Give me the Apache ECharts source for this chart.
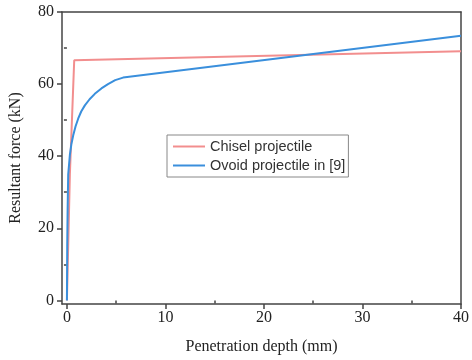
<!DOCTYPE html>
<html><head><meta charset="utf-8">
<script src="https://cdn.jsdelivr.net/npm/echarts@6/dist/echarts.min.js"></script>
<style>html,body{margin:0;padding:0;background:#fff}#c{width:472px;height:360px}</style>
</head><body><div id="c"></div>
<script>
const chiselX = [0, 0.3, 0.74, 40];
const chiselY = [0, 35, 66.6, 69.1];
const ovoidX = [0, 0.03, 0.07, 0.13, 0.3, 0.45, 0.64, 0.88, 1.14, 1.45, 1.82, 2.3, 2.83, 3.5, 4.17, 4.9, 5.7, 40];
const ovoidY = [0, 15, 25, 34.9, 40.4, 43.3, 45.8, 48.3, 50.4, 52.4, 54.1, 55.8, 57.3, 58.8, 60.0, 61.1, 61.8, 73.4];
const xTicks = [0, 10, 20, 30, 40];
const xMinor = [5, 15, 25, 35];
const yTicks = [0, 20, 40, 60, 80];
const yMinor = [10, 30, 50, 70];
const names = ['Chisel projectile', 'Ovoid projectile in [9]'];

const serif = 'Liberation Serif';
const axisCol = '#444';
const xmin = -0.5, xmax = 40, ymin = -1, ymax = 80;

const chart = echarts.init(document.getElementById('c'));
chart.setOption({
  animation: false,
  backgroundColor: '#fff',
  grid: { left: 62, right: 9, top: 12, bottom: 52 },
  legend: {
    orient: 'vertical', left: 167, top: 135,
    data: names, icon: 'rect', itemWidth: 32, itemHeight: 2, itemGap: 4,
    borderColor: '#888', borderWidth: 1, padding: [4, 3, 4, 6],
    textStyle: { fontFamily: 'Liberation Sans', fontSize: 14.5, color: '#333' }
  },
  xAxis: [
    { type: 'value', min: xmin, max: xmax, position: 'bottom',
      name: 'Penetration depth (mm)', nameLocation: 'middle', nameGap: 35,
      nameTextStyle: { fontFamily: serif, fontSize: 16, color: '#222' },
      axisLine: { show: true, onZero: false, lineStyle: { color: axisCol, width: 1.5 } },
      axisTick: { show: true, inside: false, length: 5, customValues: xTicks, lineStyle: { color: axisCol, width: 1.5 } },
      axisLabel: { customValues: xTicks, margin: 6, fontFamily: serif, fontSize: 16, color: '#222' },
      splitLine: { show: false } },
    { type: 'value', min: xmin, max: xmax, position: 'bottom',
      axisLine: { show: false },
      axisTick: { show: true, length: 3, customValues: xMinor, lineStyle: { color: axisCol, width: 1.5 } },
      axisLabel: { show: false }, splitLine: { show: false } },
    { type: 'value', min: xmin, max: xmax, position: 'top',
      axisLine: { show: true, onZero: false, lineStyle: { color: axisCol, width: 1.5 } },
      axisTick: { show: false }, axisLabel: { show: false }, splitLine: { show: false } }
  ],
  yAxis: [
    { type: 'value', min: ymin, max: ymax, position: 'left',
      name: 'Resultant force (kN)', nameLocation: 'middle', nameGap: 38,
      nameTextStyle: { fontFamily: serif, fontSize: 16, color: '#222' },
      axisLine: { show: true, onZero: false, lineStyle: { color: axisCol, width: 1.5 } },
      axisTick: { show: true, length: 5, customValues: yTicks, lineStyle: { color: axisCol, width: 1.5 } },
      axisLabel: { customValues: yTicks, margin: 8, fontFamily: serif, fontSize: 16, color: '#222' },
      splitLine: { show: false } },
    { type: 'value', min: ymin, max: ymax, position: 'left',
      axisLine: { show: false },
      axisTick: { show: true, length: 3, customValues: yMinor, lineStyle: { color: axisCol, width: 1.5 } },
      axisLabel: { show: false }, splitLine: { show: false } },
    { type: 'value', min: ymin, max: ymax, position: 'right',
      axisLine: { show: true, onZero: false, lineStyle: { color: axisCol, width: 1.5 } },
      axisTick: { show: false }, axisLabel: { show: false }, splitLine: { show: false } }
  ],
  series: [
    { name: names[0], type: 'line', showSymbol: false, symbol: 'none',
      data: chiselX.map((x, i) => [x, chiselY[i]]),
      lineStyle: { color: '#f28e8e', width: 2 }, itemStyle: { color: '#f28e8e' } },
    { name: names[1], type: 'line', showSymbol: false, symbol: 'none', smooth: false,
      data: ovoidX.map((x, i) => [x, ovoidY[i]]),
      lineStyle: { color: '#3a8fdc', width: 2 }, itemStyle: { color: '#3a8fdc' } }
  ]
});
</script></body></html>
